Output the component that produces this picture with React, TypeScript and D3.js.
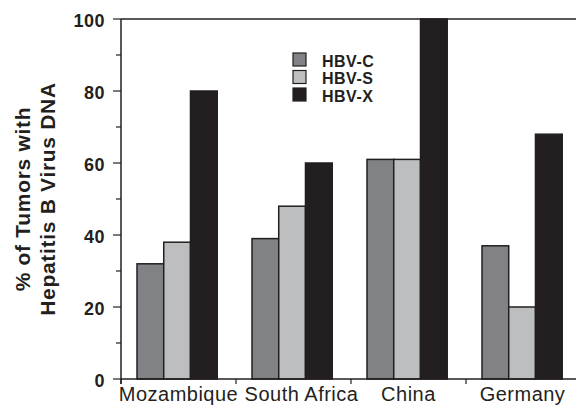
import React from "react";
import * as d3 from "d3";

const countries = ["Mozambique", "South Africa", "China", "Germany"];
const seriesNames = ["HBV-C", "HBV-S", "HBV-X"];
const hbvC = [32, 39, 61, 37];
const hbvS = [38, 48, 61, 20];
const hbvX = [80, 60, 100, 68];
const yTicks = [0, 20, 40, 60, 80, 100];
const yMinorTicks = [10, 30, 50, 70, 90];
const labelShift = [0, 8, 0, -1];

const colors = ["#808285", "#bcbec0", "#231f20"];
const ink = "#231f20";

export default function App() {
  const W = 576;
  const H = 408;
  const left = 121;
  const top = 19;
  const bottom = 379;
  const step = 115;

  const x0 = d3
    .scaleBand<string>()
    .domain(countries)
    .range([left, left + step * countries.length])
    .padding(0);
  const x1 = d3
    .scaleBand<string>()
    .domain(seriesNames)
    .range([0, x0.bandwidth()])
    .paddingInner(0)
    .paddingOuter(0.65)
    .align(0.46);
  const y = d3.scaleLinear().domain([0, 100]).range([bottom, top]);

  const values = [hbvC, hbvS, hbvX];
  const font = "'Liberation Sans', Arial, Helvetica, sans-serif";

  return (
    <svg
      width={W}
      height={H}
      style={{ position: "absolute", left: 0, top: 0, background: "#fff" }}
      fontFamily={font}
    >
      {/* bars */}
      {countries.map((c, ci) => (
        <g key={c}>
          {seriesNames.map((s, si) => {
            const v = values[si][ci];
            const bx = (x0(c) as number) + (x1(s) as number);
            return (
              <rect
                key={s}
                x={bx}
                y={y(v)}
                width={x1.bandwidth()}
                height={y(0) - y(v)}
                fill={colors[si]}
                stroke={ink}
                strokeWidth={1.5}
              />
            );
          })}
        </g>
      ))}

      {/* frame */}
      <line x1={left} x2={W} y1={y(100)} y2={y(100)} stroke={ink} strokeWidth={1.5} />
      <line x1={left} x2={W} y1={y(0)} y2={y(0)} stroke={ink} strokeWidth={1.5} />
      <line x1={left} x2={left} y1={y(100)} y2={y(0) + 5} stroke={ink} strokeWidth={1.5} />

      {/* x ticks at group boundaries */}
      {countries.map((c) => (
        <line
          key={c}
          x1={x0(c) as number}
          x2={x0(c) as number}
          y1={y(0)}
          y2={y(0) + 5}
          stroke={ink}
          strokeWidth={1.2}
        />
      ))}

      {/* y ticks */}
      {yTicks.map((t) => (
        <g key={t}>
          <line x1={left - 8} x2={left} y1={y(t)} y2={y(t)} stroke={ink} strokeWidth={1.2} />
          <text
            x={105}
            y={y(t) + 8}
            textAnchor="end"
            fontSize={18}
            fontWeight="bold"
            fill={ink}
            letterSpacing={0.5}
          >
            {t}
          </text>
        </g>
      ))}
      {yMinorTicks.map((t) => (
        <line key={t} x1={left - 5} x2={left} y1={y(t)} y2={y(t)} stroke={ink} strokeWidth={1.2} />
      ))}

      {/* x labels */}
      {countries.map((c, ci) => (
        <text
          key={c}
          x={(x0(c) as number) + x0.bandwidth() / 2 + labelShift[ci]}
          y={401}
          textAnchor="middle"
          fontSize={20}
          fill={ink}
          letterSpacing={0.5}
        >
          {c}
        </text>
      ))}

      {/* y title */}
      <g transform={`translate(30, ${(top + bottom) / 2}) rotate(-90)`}>
        <text textAnchor="middle" fontSize={21} fontWeight="bold" fill={ink} letterSpacing={0.7}>
          % of Tumors with
        </text>
      </g>
      <g transform={`translate(55, ${(top + bottom) / 2}) rotate(-90)`}>
        <text textAnchor="middle" fontSize={21} fontWeight="bold" fill={ink} letterSpacing={0.7}>
          Hepatitis B Virus DNA
        </text>
      </g>

      {/* legend */}
      {seriesNames.map((s, si) => (
        <g key={s} transform={`translate(293, ${53 + si * 17.5})`}>
          <rect x={0} y={0} width={13} height={13} fill={colors[si]} stroke={ink} strokeWidth={1.2} />
          <text x={29} y={13.5} fontSize={16} fontWeight="bold" fill={ink} letterSpacing={0.5}>
            {s}
          </text>
        </g>
      ))}
    </svg>
  );
}
